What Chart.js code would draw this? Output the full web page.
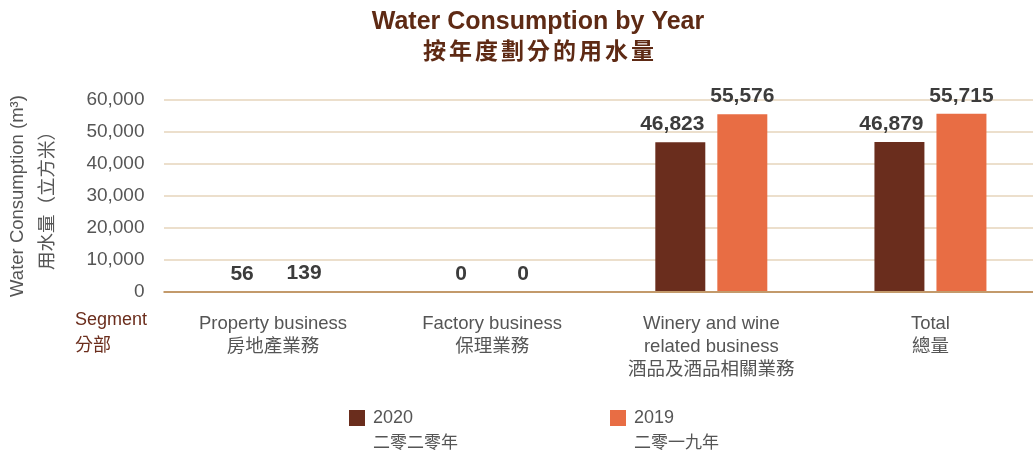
<!DOCTYPE html>
<html>
<head>
<meta charset="utf-8">
<script src="https://cdn.jsdelivr.net/npm/chart.js@4/dist/chart.umd.min.js"></script>
<style>
    body { margin: 0; overflow: hidden; background: #fff; }
    .chart-container { width: 1040px; height: 454px; position: relative; }
</style>
</head>
<body>
<div class="chart-container">
    <canvas id="waterChart"></canvas>
</div>
<script>
const segments = [
    ['Property business', '房地產業務'],
    ['Factory business', '保理業務'],
    ['Winery and wine', 'related business', '酒品及酒品相關業務'],
    ['Total', '總量'],
];
const values2020 = [56, 0, 46823, 46879];
const values2019 = [139, 0, 55576, 55715];
const yearLabels = ['2020', '2019'];
const yearLabelsZh = ['二零二零年', '二零一九年'];
const titleLines = ['Water Consumption by Year', '按年度劃分的用水量'];

const FONT = "'Liberation Sans', Arial, 'Noto Sans CJK TC', sans-serif";
const BROWN = '#5e2a14';
const GREY = '#555555';
const ZERO_LINE = '#c39a6b';

// value labels, title, segment caption and legend drawn straight onto the canvas
const extrasPlugin = {
    id: 'extras',
    afterDatasetsDraw(chart) {
        const ctx = chart.ctx;
        const area = chart.chartArea;
        ctx.save();

        // zero line goes over the tiny bars, like in the original
        const y0 = chart.scales.y.getPixelForValue(0);
        ctx.strokeStyle = ZERO_LINE;
        ctx.lineWidth = 2;
        ctx.beginPath();
        ctx.moveTo(area.left, y0);
        ctx.lineTo(area.right, y0);
        ctx.stroke();

        ctx.fillStyle = '#3c3c3c';
        ctx.font = 'bold 21px ' + FONT;
        ctx.textAlign = 'center';
        ctx.textBaseline = 'middle';
        chart.data.datasets.forEach((ds, i) => {
            chart.getDatasetMeta(i).data.forEach((bar, j) => {
                // the big 2020 labels sit a little left of their bars in the original
                const shift = (i === 0 && ds.data[j] > 1000) ? -8 : 0;
                ctx.fillText(ds.data[j].toLocaleString('en-US'), bar.x + shift, bar.y - 18);
            });
        });
        ctx.restore();
    },
    afterDraw(chart) {
        const ctx = chart.ctx;
        ctx.save();
        ctx.textBaseline = 'middle';

        // title
        ctx.fillStyle = BROWN;
        ctx.textAlign = 'center';
        ctx.font = 'bold 25px ' + FONT;
        ctx.fillText(titleLines[0], 538, 22);
        ctx.font = 'bold 23px ' + FONT;
        ctx.letterSpacing = '3px';
        ctx.fillText(titleLines[1], 540, 53);
        ctx.letterSpacing = '0px';

        // segment caption
        ctx.textAlign = 'left';
        ctx.fillStyle = '#6b2d1c';
        ctx.font = '18px ' + FONT;
        ctx.fillText('Segment', 75, 320);
        ctx.fillText('分部', 75, 346);

        // legend
        const legendX = [349, 610];
        chart.data.datasets.forEach((ds, i) => {
            ctx.fillStyle = ds.backgroundColor;
            ctx.fillRect(legendX[i], 410, 16, 16);
            ctx.fillStyle = GREY;
            ctx.font = '18px ' + FONT;
            ctx.fillText(yearLabels[i], legendX[i] + 24, 418);
            ctx.font = '17px ' + FONT;
            ctx.fillText(yearLabelsZh[i], legendX[i] + 24, 443);
        });
        ctx.restore();
    }
};

new Chart(document.getElementById('waterChart'), {
    type: 'bar',
    data: {
        labels: segments,
        datasets: [
            {
                label: yearLabels[0],
                data: values2020,
                backgroundColor: '#6a2d1d',
                categoryPercentage: 0.566,
                barPercentage: 0.806,
            },
            {
                label: yearLabels[1],
                data: values2019,
                backgroundColor: '#e86d44',
                categoryPercentage: 0.566,
                barPercentage: 0.806,
            },
        ],
    },
    options: {
        responsive: true,
        maintainAspectRatio: false,
        animation: false,
        layout: { padding: { top: 100, right: 0, bottom: 0, left: 0 } },
        plugins: {
            legend: { display: false },
            title: { display: false },
            tooltip: { enabled: false },
        },
        scales: {
            x: {
                grid: { display: false },
                border: { display: false },
                ticks: {
                    color: GREY,
                    font: { family: FONT, size: 18.5, lineHeight: 1.25 },
                    padding: 12,
                    maxRotation: 0,
                    autoSkip: false,
                },
                afterFit: (scale) => { scale.height = 162; },
            },
            y: {
                min: 0,
                max: 60000,
                grid: {
                    drawTicks: false,
                    lineWidth: 2,
                    color: (c) => (c.tick && c.tick.value === 0 ? ZERO_LINE : '#ecdfcc'),
                },
                border: { display: false },
                ticks: {
                    stepSize: 10000,
                    color: GREY,
                    font: { family: FONT, size: 19 },
                    padding: 19,
                },
                title: {
                    display: true,
                    text: ['Water Consumption (m³)', '用水量（立方米）'],
                    color: GREY,
                    font: { family: FONT, size: 18.5, lineHeight: 1.62 },
                    padding: { top: 3, bottom: 0 },
                },
                afterFit: (scale) => { scale.width = 163.5; },
            },
        },
    },
    plugins: [extrasPlugin],
});
</script>
</body>
</html>
